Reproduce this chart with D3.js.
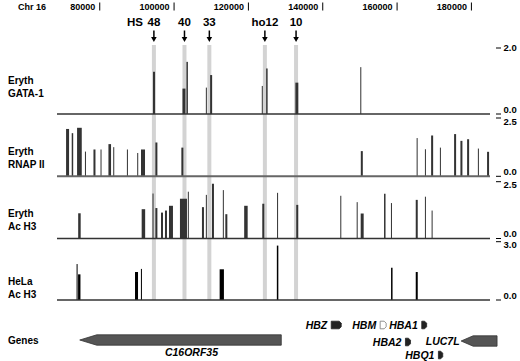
<!DOCTYPE html>
<html><head><meta charset="utf-8">
<script src="https://cdn.jsdelivr.net/npm/d3@7"></script>
<style>
body{margin:0;background:#fff}
svg{display:block}
text{font-family:"Liberation Sans",Arial,Helvetica,sans-serif;font-weight:bold;fill:#000}
</style>
</head><body>
<svg id="chart" width="520" height="361"></svg>
<script>
// ---------- DATA ----------
const chromosome = "Chr 16";
const axisTicks = [80000, 100000, 120000, 140000, 160000, 180000];
const hsNames = ["48", "40", "33", "ho12", "10"];
const hsPositions = [94570, 102800, 109490, 124430, 132820];

const trackLabels = [["Eryth", "GATA-1"], ["Eryth", "RNAP II"], ["Eryth", "Ac H3"], ["HeLa", "Ac H3"]];
const trackMax = [2.0, 2.5, 2.5, 3.0];
const trackMaxLabels = ["2.0", "2.5", "2.5", "3.0"];

// [start bp, end bp, value]
const erythGata1 = [
  [94330, 94870, 1.28], [102260, 103060, 0.77], [103320, 103720, 1.58],
  [108550, 108820, 0.80], [109700, 110240, 1.18], [123600, 123870, 0.85],
  [124770, 125170, 1.38], [132630, 133430, 0.95], [150100, 150370, 1.42]
];
const erythRnap2 = [
  [70940, 71750, 2.03], [72460, 72860, 1.85], [73900, 75160, 2.08],
  [76020, 76290, 1.06], [78310, 78850, 1.15], [80210, 80480, 1.15],
  [82340, 83040, 1.38], [83630, 83900, 1.25], [87310, 87580, 1.15],
  [90080, 90350, 1.00], [91100, 92180, 1.15], [94970, 95510, 1.45],
  [101960, 102500, 1.23], [150240, 150780, 1.08], [165260, 165530, 1.64],
  [167490, 167760, 1.16], [169160, 169700, 1.75], [171520, 171790, 1.23],
  [175340, 175880, 1.81], [177040, 177580, 1.52], [178840, 179380, 1.59],
  [181740, 182010, 1.19], [184210, 184750, 1.05]
];
const erythAcH3 = [
  [74200, 74870, 1.11], [91280, 92220, 1.29], [94200, 94470, 1.98],
  [94970, 95510, 1.34], [96480, 97020, 1.14], [97550, 98090, 1.23],
  [98630, 99700, 1.44], [101580, 103470, 1.75], [103700, 103970, 2.06],
  [107500, 108040, 1.38], [108550, 108820, 1.92], [110190, 110730, 2.41],
  [113120, 113390, 2.13], [113790, 114330, 1.07], [118860, 119800, 1.44],
  [123730, 124270, 1.53], [127710, 127980, 2.01], [132870, 133410, 1.48],
  [144720, 144990, 1.88], [149130, 149400, 1.60], [150210, 151010, 1.10],
  [156490, 156890, 1.97], [158350, 158620, 1.56], [165020, 165560, 1.70],
  [167490, 167760, 1.84], [169290, 169560, 1.23]
];
const helaAcH3 = [
  [73770, 74040, 1.85], [74170, 74810, 1.32], [89490, 90300, 1.44],
  [91080, 91350, 1.60], [112260, 113410, 1.58], [127650, 128050, 2.80],
  [158380, 158780, 1.66], [165020, 165560, 1.44]
];
const trackData = [erythGata1, erythRnap2, erythAcH3, helaAcH3];

// genes: name, start, end, strand
const geneNames = ["C16ORF35", "HBZ", "HBM", "HBA2", "HBA1", "HBQ1", "LUC7L"];
const geneStarts = [74620, 142280, 155450, 162250, 166640, 171120, 177230];
const geneEnds = [128840, 144970, 157060, 163600, 167950, 172280, 186900];
const geneStrands = ["-", "+", "+", "+", "+", "+", "-"];

// ---------- LAYOUT / STYLE ----------
const svg = d3.select("#chart");
const x = d3.scaleLinear().domain([68500, 185000]).range([57, 490]);
const trackGeom = [[48, 114], [118, 176.3], [181.7, 238.5], [241.7, 300]];
const trackLabelY = [84, 155, 217, 285];
const barColors = ["#333", "#333", "#333", "#000"];
const baseStyles = [{c: "#333", w: 1.4}, {c: "#666", w: 2}, {c: "#333", w: 1.4}, {c: "#333", w: 1.4}];
const geneLane = {C16ORF35: 340, HBZ: 325, HBM: 325, HBA1: 325, HBA2: 342, LUC7L: 341, HBQ1: 355};
const hollowGenes = ["HBM"];

// top axis
svg.append("text").attr("x", 18).attr("y", 10).attr("font-size", 9).text(chromosome);
axisTicks.forEach(t => {
  svg.append("line").attr("x1", x(t)).attr("x2", x(t)).attr("y1", 2.5).attr("y2", 10.5)
    .attr("stroke", "#000").attr("stroke-width", 1);
  svg.append("text").attr("x", x(t) - 4.5).attr("y", 10).attr("text-anchor", "end")
    .attr("font-size", 9).text(d3.format("d")(t));
});

// HS bands
const bandG = svg.append("g");
hsPositions.forEach(p => {
  bandG.append("rect").attr("x", x(p) - 2).attr("width", 4).attr("y", 45).attr("height", 255)
    .attr("fill", "#d3d3d3");
});
// HS labels & arrows
svg.append("text").attr("x", 143).attr("y", 26).attr("text-anchor", "end").attr("font-size", 11.5).text("HS");
hsPositions.forEach((p, i) => {
  const cx = x(p);
  svg.append("text").attr("x", cx).attr("y", 26).attr("text-anchor", "middle")
    .attr("font-size", 11.5).text(hsNames[i]);
  svg.append("line").attr("x1", cx).attr("x2", cx).attr("y1", 30.5).attr("y2", 38)
    .attr("stroke", "#000").attr("stroke-width", 1.5);
  svg.append("path").attr("d", `M${cx - 2.8},37 L${cx + 2.8},37 L${cx},42 Z`).attr("fill", "#000");
});

// tracks
trackData.forEach((data, i) => {
  const [top, base] = trackGeom[i];
  const y = d3.scaleLinear().domain([0, trackMax[i]]).range([base, top]);
  const g = svg.append("g");
  g.selectAll("rect").data(data).enter().append("rect")
    .attr("x", d => x(d[0]))
    .attr("width", d => Math.max(1, x(d[1]) - x(d[0])))
    .attr("y", d => y(d[2]))
    .attr("height", d => y(0) - y(d[2]))
    .attr("fill", barColors[i]);
  g.append("line").attr("x1", x.range()[0]).attr("x2", x.range()[1])
    .attr("y1", y(0)).attr("y2", y(0))
    .attr("stroke", baseStyles[i].c).attr("stroke-width", baseStyles[i].w);
  // right ticks
  const ra = g.append("g");
  [[0, "0.0", -1.5], [trackMax[i], trackMaxLabels[i], i === 0 ? 2.5 : 6.5]].forEach(([v, lab, dy]) => {
    ra.append("line").attr("x1", 496).attr("x2", 501).attr("y1", y(v)).attr("y2", y(v))
      .attr("stroke", "#000").attr("stroke-width", 1);
    ra.append("text").attr("x", 503.5).attr("y", y(v) + dy).attr("font-size", 9.5).text(lab);
  });
  // track label
  const ly = trackLabelY[i];
  const lab = svg.append("text").attr("x", 8).attr("font-size", 10);
  lab.append("tspan").attr("x", 8).attr("y", ly).text(trackLabels[i][0]);
  lab.append("tspan").attr("x", 8).attr("y", ly + 13).text(trackLabels[i][1]);
});

// genes
svg.append("text").attr("x", 8).attr("y", 344).attr("font-size", 10).text("Genes");
const geneG = svg.append("g");
geneNames.forEach((name, i) => {
  const x0 = x(geneStarts[i]), x1 = x(geneEnds[i]);
  const cy = geneLane[name];
  const w = x1 - x0;
  if (w > 20) {
    // long arrow gene pointing left
    const h = 5.2, head = name === "C16ORF35" ? 17 : 12;
    geneG.append("path")
      .attr("d", `M${x0},${cy} L${x0 + head},${cy - h} L${x1},${cy - h} L${x1},${cy + h} L${x0 + head},${cy + h} Z`)
      .attr("fill", "#555").attr("stroke", "#333").attr("stroke-width", 0.8);
    if (name === "C16ORF35") {
      geneG.append("text").attr("x", (x0 + x1) / 2 + 11).attr("y", 356).attr("text-anchor", "middle")
        .attr("font-size", 10.5).attr("font-style", "italic").text(name);
    } else {
      geneG.append("text").attr("x", x0 - 1.5).attr("y", cy + 4).attr("text-anchor", "end")
        .attr("font-size", 10.5).attr("font-style", "italic").text(name);
    }
  } else {
    const h = 3.8, tip = Math.min(2, w / 2);
    const hollow = hollowGenes.includes(name);
    geneG.append("path")
      .attr("d", `M${x0},${cy - h} L${x1 - tip},${cy - h} L${x1},${cy - h + 2} L${x1},${cy + h - 2} L${x1 - tip},${cy + h} L${x0},${cy + h} Z`)
      .attr("fill", hollow ? "#fff" : "#222").attr("stroke", hollow ? "#777" : "#222").attr("stroke-width", 0.8);
    geneG.append("text").attr("x", x0 - 4).attr("y", cy + 4).attr("text-anchor", "end")
      .attr("font-size", 10.5).attr("font-style", "italic").text(name);
  }
});
</script>
</body></html>
